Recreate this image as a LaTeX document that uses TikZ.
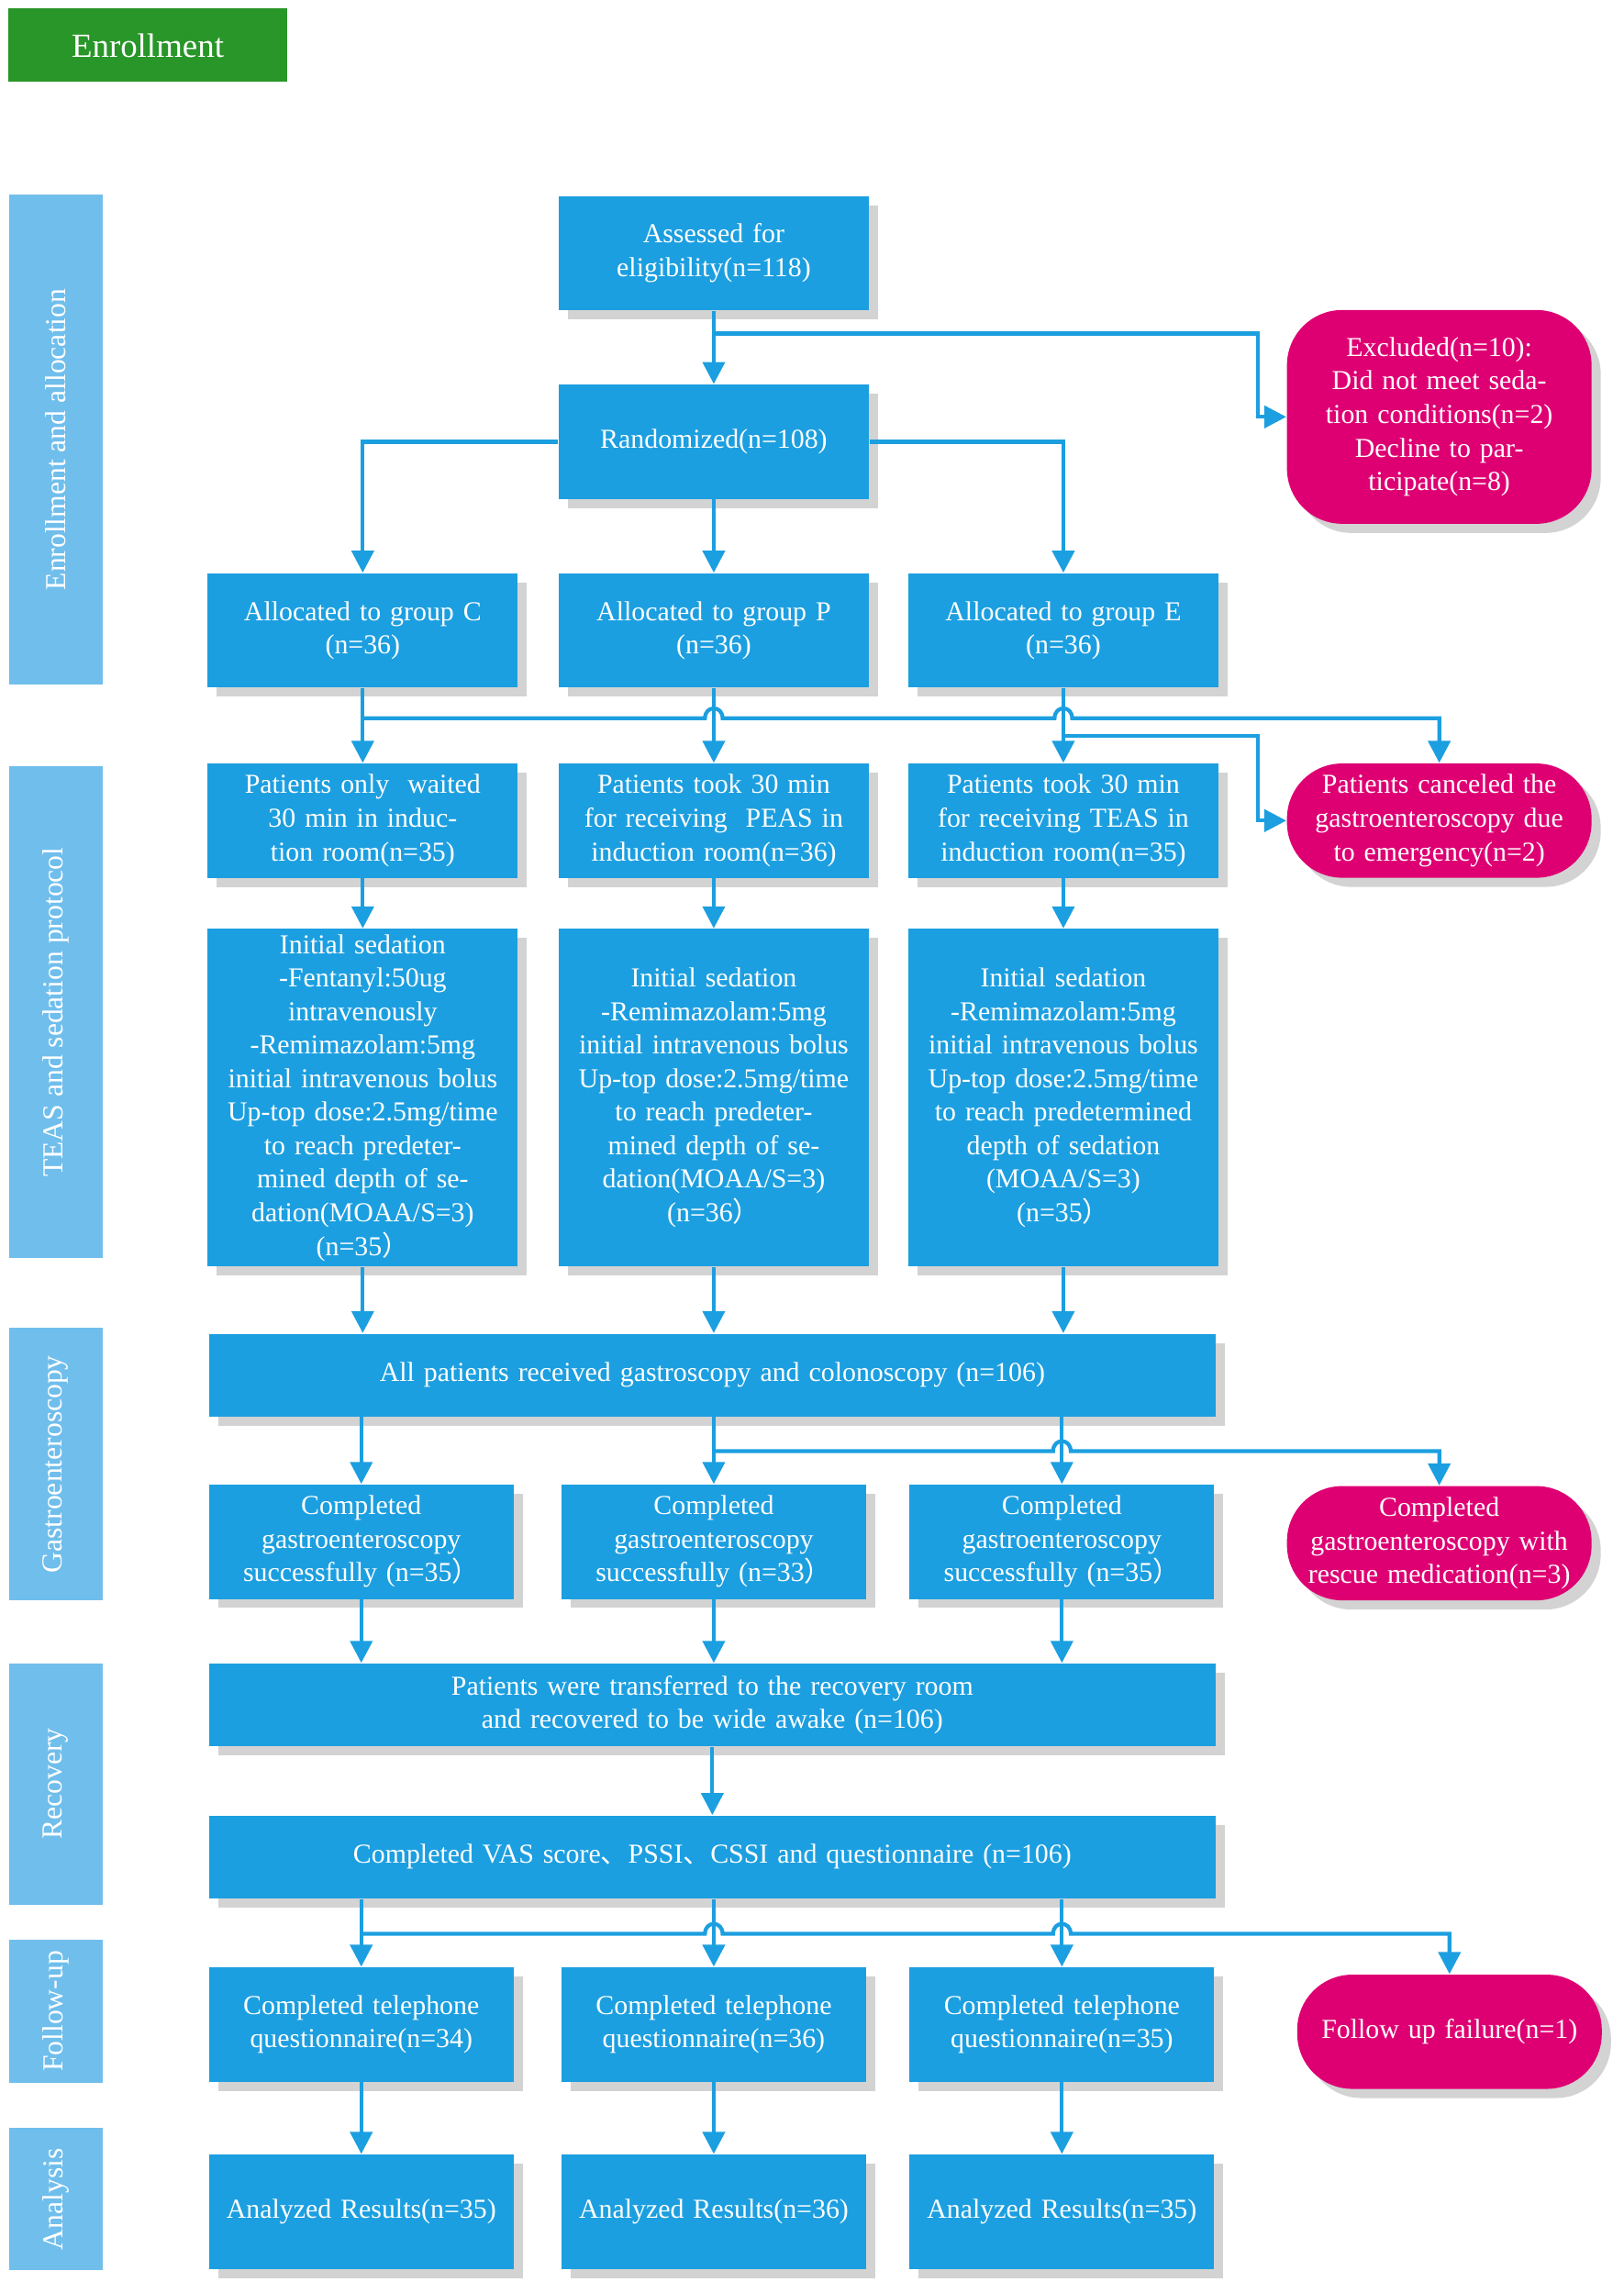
\documentclass[tikz,border=0pt]{standalone}
\usepackage{fontspec}
\setmainfont{Liberation Serif}
\newfontfamily\cjk{Noto Sans CJK SC}
\usetikzlibrary{arrows.meta,shadows}
\definecolor{boxblue}{RGB}{28,159,224}
\definecolor{sideblue}{RGB}{112,190,236}
\definecolor{pinkred}{RGB}{222,0,115}
\definecolor{darkgreen}{RGB}{40,150,40}
\begin{document}
\begin{tikzpicture}[x=0.01594cm, y=-0.01594cm, >={Triangle[length=2.4mm,width=2.4mm]},
    every node/.style={font=\fontsize{8.5}{10.4}\selectfont, text=white, align=center},
    bbox/.style={fill=boxblue, minimum width=3.38cm, minimum height=1.245cm, text width=3.25cm, inner sep=1pt, drop shadow={opacity=0.35, shadow xshift=1mm, shadow yshift=-1mm}},
    wbox/.style={bbox, minimum width=10.97cm, text width=10.8cm, minimum height=0.9cm},
    pbox/.style={bbox, fill=pinkred, rounded corners=0.6cm, minimum width=3.32cm},
    side/.style={fill=sideblue, minimum width=1.02cm, rotate=90, font=\fontsize{9}{11}\selectfont},
    line/.style={draw=boxblue, line width=1.2pt}]
    \useasboundingbox (0,0) rectangle (1110,1567.6);

    % Headers on the left
    \node (head) at (101,31) [fill=darkgreen, minimum width=3.04cm, minimum height=0.8cm, font=\fontsize{10.5}{12}\selectfont] {Enrollment};
    \node (s1) at (38,300.5) [side, minimum width=5.34cm, minimum height=1.02cm] {Enrollment and allocation};
    \node (s2) at (38,692) [side, minimum width=5.36cm, minimum height=1.02cm] {TEAS and sedation protocol};
    \node (s3) at (38,1001) [side, minimum width=2.97cm, minimum height=1.02cm] {Gastroenteroscopy};
    \node (s4) at (38,1219.5) [side, minimum width=2.63cm, minimum height=1.02cm] {Recovery};
    \node (s5) at (38,1375) [side, minimum width=1.53cm, minimum height=1.02cm] {Follow-up};
    \node (s6) at (38,1503.5) [side, minimum width=1.55cm, minimum height=1.02cm] {Analysis};

    % Boxes
    \node (assess) at (488,173) [bbox] {Assessed for\\eligibility(n=118)};
    \node (excl) at (984,285) [pbox, minimum height=2.33cm] {Excluded(n=10):\\Did not meet sedation conditions(n=2)\\Decline to participate(n=8)};
    \node (rand) at (488,302) [bbox] {Randomized(n=108)};
    \node (allocC) at (248,431) [bbox] {Allocated to group C\\(n=36)};
    \node (allocP) at (488,431) [bbox] {Allocated to group P\\(n=36)};
    \node (allocE) at (727,431) [bbox] {Allocated to group E\\(n=36)};
    \node (patC) at (248,561) [bbox] {Patients only\ \ waited 30 min in induction room(n=35)};
    \node (patP) at (488,561) [bbox] {Patients took 30 min for receiving\ \ PEAS in induction room(n=36)};
    \node (patE) at (727,561) [bbox] {Patients took 30 min for receiving TEAS in induction room(n=35)};
    \node (cancel) at (984,561) [pbox] {Patients canceled the gastroenteroscopy due to emergency(n=2)};
    \node (initC) at (248,750.5) [bbox, minimum height=3.68cm] {Initial sedation\\-Fentanyl:50ug intravenously\\-Remimazolam:5mg initial intravenous bolus\\Up-top dose:2.5mg/time to reach predetermined depth of sedation(MOAA/S=3)\\(n=35{\cjk ）}};
    \node (initP) at (488,750.5) [bbox, minimum height=3.68cm] {Initial sedation\\-Remimazolam:5mg initial intravenous bolus\\Up-top dose:2.5mg/time to reach predetermined depth of sedation(MOAA/S=3)\\(n=36{\cjk ）}};
    \node (initE) at (727,750.5) [bbox, minimum height=3.68cm] {Initial sedation\\-Remimazolam:5mg initial intravenous bolus\\Up-top dose:2.5mg/time to reach predetermined depth of sedation\\(MOAA/S=3)\\(n=35{\cjk ）}};
    \node (all) at (487,940) [wbox] {All patients received gastroscopy and colonoscopy (n=106)};
    \node (compC) at (247,1054) [bbox, minimum width=3.32cm] {Completed\\gastroenteroscopy\\successfully (n=35{\cjk ）}};
    \node (compP) at (488,1054) [bbox, minimum width=3.32cm] {Completed\\gastroenteroscopy\\successfully (n=33{\cjk ）}};
    \node (compE) at (726,1054) [bbox, minimum width=3.32cm] {Completed\\gastroenteroscopy\\successfully (n=35{\cjk ）}};
    \node (rescue) at (984,1055) [pbox] {Completed\\gastroenteroscopy with rescue medication(n=3)};
    \node (trans) at (487,1165.5) [wbox] {Patients were transferred to the recovery room and recovered to be wide awake (n=106)};
    \node (vas) at (487,1269.5) [wbox] {Completed VAS score{\cjk 、}PSSI{\cjk 、}CSSI and questionnaire (n=106)};
    \node (telC) at (247,1384) [bbox, minimum width=3.32cm] {Completed telephone\\questionnaire(n=34)};
    \node (telP) at (488,1384) [bbox, minimum width=3.32cm] {Completed telephone\\questionnaire(n=36)};
    \node (telE) at (726,1384) [bbox, minimum width=3.32cm] {Completed telephone\\questionnaire(n=35)};
    \node (fail) at (991,1389) [pbox] {Follow up failure(n=1)};
    \node (anaC) at (247,1512) [bbox, minimum width=3.32cm] {Analyzed Results(n=35)};
    \node (anaP) at (488,1512) [bbox, minimum width=3.32cm] {Analyzed Results(n=36)};
    \node (anaE) at (726,1512) [bbox, minimum width=3.32cm] {Analyzed Results(n=35)};

    % Connectors
    \draw[line, ->] (assess) -- (rand);
    \draw[line, ->] (488,228) -- (860,228) |- (excl.west);
    \draw[line, ->] (rand) -- (allocP);
    \draw[line, ->] (rand.west) -| (allocC.north);
    \draw[line, ->] (rand.east) -| (allocE.north);

    \draw[line, ->] (allocC) -- (patC);
    \draw[line, ->] (allocP) -- (patP);
    \draw[line, ->] (allocE) -- (patE);
    \draw[line, ->] (248,491) -- (482,491) .. controls (482,482) and (494,482) .. (494,491) -- (721,491) .. controls (721,482) and (733,482) .. (733,491) -- (984,491) -- (cancel.north);
    \draw[line, ->] (727,503) -- (860,503) |- (cancel.west);

    \draw[line, ->] (patC) -- (initC);
    \draw[line, ->] (patP) -- (initP);
    \draw[line, ->] (patE) -- (initE);
    \draw[line, ->] (initC) -- (initC |- all.north);
    \draw[line, ->] (initP) -- (initP |- all.north);
    \draw[line, ->] (initE) -- (initE |- all.north);

    \draw[line, ->] (compC |- all.south) -- (compC);
    \draw[line, ->] (compP |- all.south) -- (compP);
    \draw[line, ->] (compE |- all.south) -- (compE);
    \draw[line, ->] (488,992) -- (720,992) .. controls (720,983) and (732,983) .. (732,992) -- (984,992) -- (rescue.north);

    \draw[line, ->] (compC) -- (compC |- trans.north);
    \draw[line, ->] (compP) -- (compP |- trans.north);
    \draw[line, ->] (compE) -- (compE |- trans.north);
    \draw[line, ->] (trans) -- (vas);

    \draw[line, ->] (telC |- vas.south) -- (telC);
    \draw[line, ->] (telP |- vas.south) -- (telP);
    \draw[line, ->] (telE |- vas.south) -- (telE);
    \draw[line, ->] (247,1322) -- (482,1322) .. controls (482,1313) and (494,1313) .. (494,1322) -- (720,1322) .. controls (720,1313) and (732,1313) .. (732,1322) -- (991,1322) -- (fail.north);

    \draw[line, ->] (telC) -- (anaC);
    \draw[line, ->] (telP) -- (anaP);
    \draw[line, ->] (telE) -- (anaE);
\end{tikzpicture}
\end{document}
